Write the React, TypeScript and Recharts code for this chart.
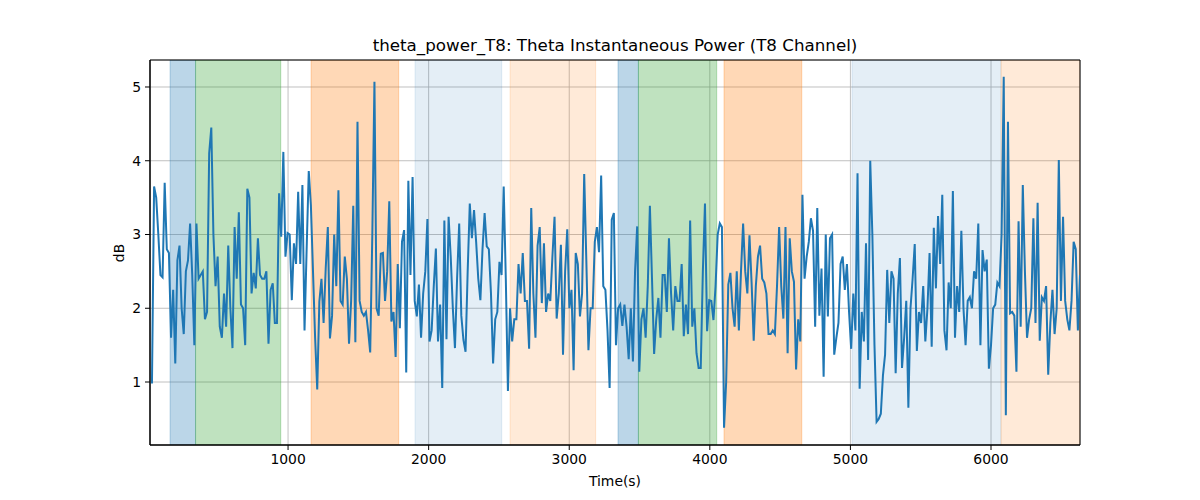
import { LineChart, Line, XAxis, YAxis, CartesianGrid, ReferenceArea } from 'recharts'

// axis range and time span of the trace (s)
const X_MIN = 18
const T_FIRST = 32
const T_LAST = 6633
const Y_MIN = 0.146
const Y_MAX = 5.366

// theta power (dB), read left to right in chunks
const power0to1000 = [
  0.98, 3.65, 3.5, 3.0, 2.45, 2.42, 3.7, 2.8, 2.75, 1.6, 2.25, 1.25, 2.65, 2.85, 2.0, 1.65, 2.5, 2.65,
  3.15, 2.45, 1.5, 3.15, 2.4, 2.45, 2.5, 1.85, 1.95, 4.1, 4.45, 3.0, 2.3, 2.7, 1.75, 1.6, 2.2,
  1.75, 2.85, 2.0, 1.46, 3.1, 2.4, 3.3, 2.05, 2.0, 1.5, 3.62, 3.5, 2.2, 2.48, 2.27, 2.95, 2.45, 2.4, 2.4,
  2.5, 1.52, 2.25, 2.34, 1.8, 1.8, 3.56, 2.97, 4.12, 2.7, 3.02, 3.0, 2.11, 2.88, 2.6, 3.58, 2.6, 3.67,
]
const power1000to2000 = [
  1.7, 2.8, 3.86, 3.4, 2.5, 1.6, 0.9, 2.09, 2.4, 1.8, 2.54, 3.1, 1.59, 1.9, 3.0, 2.3, 3.6, 2.1, 2.05, 2.7,
  2.4, 1.52, 2.1, 3.39, 1.54, 4.53, 2.1, 1.95, 1.9, 1.95, 1.7, 1.4, 3.0, 5.07, 2.0, 1.9, 2.74,
  2.75, 2.1, 2.5, 3.45, 1.82, 1.95, 1.34, 2.6, 1.73, 2.9, 3.06, 1.13, 3.73, 2.45, 3.78, 2.1, 1.89, 2.32,
  1.6, 2.2, 2.5, 3.21, 1.55, 1.7, 2.3, 2.81, 1.55, 2.05, 0.92, 3.19, 1.58, 3.24, 2.7, 2.0, 1.46, 2.4, 3.15,
]
const power2000to3000 = [
  1.9, 1.57, 1.41, 2.5, 3.42, 2.95, 3.33, 2.9, 2.4, 2.11, 2.8, 3.29, 2.84, 2.8, 2.2, 1.25, 1.85, 1.95,
  2.63, 2.45, 3.65, 2.4, 0.88, 2.0, 1.55, 1.85, 1.85, 2.6, 2.2, 2.75, 2.1, 2.1, 1.45, 3.36, 2.2, 1.6,
  2.85, 3.1, 2.07, 2.88, 1.95, 2.2, 2.1, 2.7, 3.24, 1.86, 2.2, 2.86, 1.37, 2.5, 3.07, 2.0, 2.25, 1.16,
  2.75, 2.6, 1.89, 2.2, 3.82, 2.65, 1.43, 2.0, 2.0, 2.9, 3.1, 2.76, 3.8, 2.3, 2.25, 1.7, 0.92, 3.2, 3.29,
]
const power3000to4000 = [
  1.5, 2.0, 2.05, 1.76, 2.05, 1.75, 1.31, 2.0, 1.28, 2.5, 3.11, 1.14, 1.85, 2.0, 1.6, 2.3, 3.39, 2.4,
  1.38, 1.85, 2.14, 1.6, 2.45, 2.45, 1.95, 2.95, 2.2, 1.7, 2.3, 2.1, 2.1, 2.6, 1.62, 2.05, 1.65, 3.19, 1.75,
  2.0, 1.39, 1.19, 1.19, 2.5, 3.42, 1.69, 2.11, 2.1, 1.84, 2.3, 3.0, 3.15, 3.1, 0.38, 1.0, 2.32, 2.48,
  2.0, 1.75, 2.5, 1.7, 2.5, 3.15, 2.5, 2.2, 2.99, 2.35, 1.56, 2.3, 2.7, 2.85, 2.4, 2.35, 2.2, 1.65, 1.65,
]
const power4000to5000 = [
  1.7, 1.65, 2.3, 3.1, 2.3, 1.86, 3.1, 1.39, 2.95, 2.5, 2.36, 1.17, 1.85, 1.55, 3.54, 2.4, 2.7, 2.9,
  3.22, 3.05, 1.75, 3.36, 1.9, 2.54, 1.07, 3.0, 1.89, 2.95, 3.0, 1.37, 1.6, 1.8, 2.6, 2.7, 2.25, 2.6, 1.95,
  1.45, 2.2, 1.7, 3.83, 0.91, 1.95, 1.55, 2.88, 1.3, 4.0, 3.0, 1.5, 0.46, 0.5, 0.57, 1.09, 1.37, 2.52,
  1.8, 2.5, 2.4, 1.12, 2.2, 2.68, 1.19, 1.6, 2.1, 0.65, 2.0, 2.4, 2.87, 1.42, 1.95, 1.8, 2.3, 1.55, 2.0,
]
const power5000toEnd = [
  2.75, 1.48, 3.09, 2.27, 3.25, 2.6, 3.54, 1.7, 1.43, 2.35, 2.0, 3.59, 1.6, 2.3, 1.95, 3.05, 2.0, 1.5,
  2.1, 2.15, 2.0, 2.5, 2.4, 3.15, 1.5, 2.79, 2.5, 2.66, 1.18, 1.5, 2.0, 2.05, 2.35, 2.3, 3.0, 5.14, 0.55,
  4.53, 1.93, 1.95, 1.9, 1.14, 3.18, 1.75, 3.67, 2.5, 1.6, 1.85, 2.0, 3.22, 1.8, 3.43, 1.56, 2.15, 2.1,
  2.3, 1.1, 1.8, 2.25, 1.65, 2.0, 4.01, 2.1, 3.24, 2.1, 1.85, 1.7, 2.1, 2.9, 2.8, 1.7, 2.45,
]

const thetaPower = [
  ...power0to1000,
  ...power1000to2000,
  ...power2000to3000,
  ...power3000to4000,
  ...power4000to5000,
  ...power5000toEnd,
]

const xTicks = [1000, 2000, 3000, 4000, 5000, 6000]
const yTicks = [1, 2, 3, 4, 5]

// shaded segments (s)
const spanStarts = [161, 342, 1164, 1903, 2579, 3347, 3492, 4101, 5011, 6071]
const spanEnds = [342, 948, 1787, 2520, 3188, 3492, 4049, 4654, 6071, 6633]
const spanKinds = ['blue', 'green', 'orange', 'paleBlue', 'paleOrange', 'blue', 'green', 'orange', 'paleBlue', 'paleOrange']

const spanStyle: Record<string, { color: string; alpha: number }> = {
  blue: { color: '#1f77b4', alpha: 0.3 },
  green: { color: '#2ca02c', alpha: 0.3 },
  orange: { color: '#ff7f0e', alpha: 0.3 },
  paleBlue: { color: '#1f77b4', alpha: 0.12 },
  paleOrange: { color: '#ff7f0e', alpha: 0.16 },
}

const FONT = 'DejaVu Sans, sans-serif'

export default function App() {
  const step = (T_LAST - T_FIRST) / (thetaPower.length - 1)
  const chartData = thetaPower.map((v, i) => ({ t: T_FIRST + i * step, v }))

  const tickStyle = { fontFamily: FONT, fontSize: 13.9, fill: '#000' }

  return (
    <div style={{ position: 'absolute', left: 0, top: 0, width: 1200, height: 500, background: '#fff' }}>
      <div
        style={{
          position: 'absolute',
          left: 0,
          width: 1230,
          top: 35,
          textAlign: 'center',
          fontFamily: FONT,
          fontSize: 16.7,
          lineHeight: '20px',
          color: '#000',
        }}
      >
        theta_power_T8: Theta Instantaneous Power (T8 Channel)
      </div>
      <div
        style={{
          position: 'absolute',
          left: 0,
          width: 1230,
          top: 472,
          textAlign: 'center',
          fontFamily: FONT,
          fontSize: 13.9,
          lineHeight: '18px',
          color: '#000',
        }}
      >
        Time(s)
      </div>
      <div
        style={{
          position: 'absolute',
          left: 119,
          top: 253,
          transform: 'translate(-50%, -50%) rotate(-90deg)',
          fontFamily: FONT,
          fontSize: 13.9,
          lineHeight: '18px',
          whiteSpace: 'nowrap',
          color: '#000',
        }}
      >
        dB
      </div>

      <LineChart
        width={1200}
        height={500}
        data={chartData}
        margin={{ top: 60, right: 120, bottom: 0, left: 0 }}
      >
        <CartesianGrid stroke="#b0b0b0" strokeWidth={0.8} />
        <XAxis
          dataKey="t"
          type="number"
          domain={[X_MIN, T_LAST]}
          ticks={xTicks}
          allowDataOverflow
          height={55}
          tick={tickStyle}
          tickSize={5}
          tickMargin={4}
          tickLine={{ stroke: '#000' }}
          axisLine={{ stroke: '#000' }}
        />
        <YAxis
          type="number"
          domain={[Y_MIN, Y_MAX]}
          ticks={yTicks}
          allowDataOverflow
          width={150}
          tick={tickStyle}
          tickSize={5}
          tickMargin={4}
          tickLine={{ stroke: '#000' }}
          axisLine={{ stroke: '#000' }}
        />
        {spanStarts.map((start, i) => {
          const s = spanStyle[spanKinds[i]]
          return (
            <ReferenceArea
              key={i}
              x1={start}
              x2={spanEnds[i]}
              fill={s.color}
              fillOpacity={s.alpha}
              stroke={s.color}
              strokeOpacity={s.alpha}
              ifOverflow="hidden"
            />
          )
        })}
        <Line
          type="linear"
          dataKey="v"
          stroke="#1f77b4"
          strokeWidth={2}
          dot={false}
          activeDot={false}
          isAnimationActive={false}
        />
        <ReferenceArea
          x1={X_MIN}
          x2={T_LAST}
          y1={Y_MIN}
          y2={Y_MAX}
          fill="none"
          stroke="#000"
          strokeWidth={1}
        />
      </LineChart>
    </div>
  )
}
